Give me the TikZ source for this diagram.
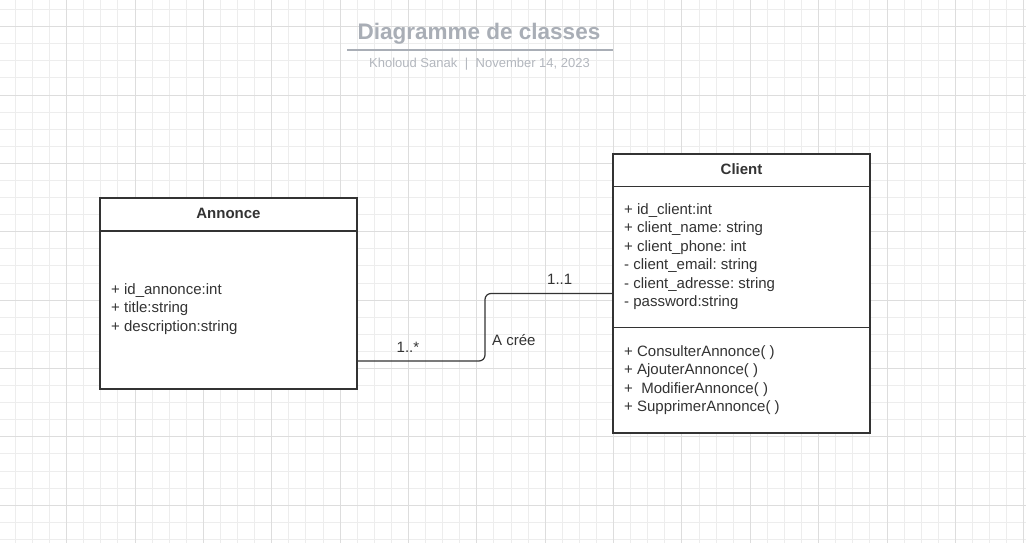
\documentclass[tikz,border=0pt]{standalone}
\usepackage{fontspec}
\setmainfont{Liberation Sans}
\frenchspacing
\definecolor{gridminor}{HTML}{EDEDED}
\definecolor{gridmajor}{HTML}{DDDDDD}
\definecolor{ink}{HTML}{333333}
\definecolor{titlegray}{HTML}{A9AEB6}
\definecolor{subgray}{HTML}{B3B7BE}
\tikzset{
  minorline/.style={gridminor, line width=1pt},
  majorline/.style={gridmajor, line width=1pt},
  classbox/.style={draw=ink, line width=1.5pt, fill=white, rectangle, inner sep=0pt, outer sep=0pt},
  divider/.style={draw=ink, line width=1.3pt},
  conn/.style={draw=ink, line width=1.2pt, rounded corners=6pt},
  txt/.style={text=ink, inner sep=0pt, font=\fontsize{15}{18.5}\selectfont},
  hdr/.style={text=ink, inner sep=0pt, font=\fontsize{15}{18.5}\selectfont\bfseries},
}
\begin{document}
\begin{tikzpicture}[x=1pt,y=-1pt]
\fill[white] (0,0) rectangle (1026,543);
\useasboundingbox (0,0) rectangle (1026,543);
% grid
\foreach \k in {-3,...,56} {
  \pgfmathsetmacro\xx{66.7+17.09*\k}
  \draw[minorline] (\xx,0) -- (\xx,543);
}
\foreach \k in {-1,...,30} {
  \pgfmathsetmacro\yy{26.7+17.09*\k}
  \draw[minorline] (0,\yy) -- (1026,\yy);
}
\foreach \k in {0,...,14} {
  \pgfmathsetmacro\xx{66.7+68.36*\k}
  \draw[majorline] (\xx,0) -- (\xx,543);
}
\foreach \k in {0,...,7} {
  \pgfmathsetmacro\yy{26.7+68.36*\k}
  \draw[majorline] (0,\yy) -- (1026,\yy);
}
% title
\node[text=titlegray, inner sep=0pt, anchor=base, font=\fontsize{22.5}{26}\selectfont\bfseries] (title) at (479,40) {Diagramme de classes};
\coordinate (ulL) at (347,50);
\coordinate (ulR) at (613,50);
\draw[titlegray, line width=2pt] (ulL) -- (ulR);
\node[text=subgray, inner sep=0pt, anchor=base, font=\fontsize{13}{15}\selectfont] (subtitle) at (479.5,68) {Kholoud Sanak\hspace{7.5pt}|\hspace{7.5pt}November 14, 2023};
% boxes
\node[classbox, minimum width=257pt, minimum height=191pt, anchor=north west] (annonce) at (100,198) {};
\node[classbox, minimum width=257pt, minimum height=279pt, anchor=north west] (client) at (613,154) {};
\draw[divider] ([yshift=-33pt]annonce.north west) -- ([yshift=-33pt]annonce.north east);
\draw[divider] ([yshift=-32.3pt]client.north west) -- ([yshift=-32.3pt]client.north east);
\draw[divider] ([yshift=-173.7pt]client.north west) -- ([yshift=-173.7pt]client.north east);
% headers
\node[hdr, anchor=base] (annhdr) at (228.5,218) {Annonce};
\node[hdr, anchor=base] (clihdr) at (741.5,174) {Client};
% Annonce attributes
\foreach \t [count=\i] in {+ id\_annonce:int, + title:string, + description:string} {
  \pgfmathsetmacro\yy{294+18.5*(\i-1)}
  \node[txt, anchor=base west] (aa\i) at (111,\yy) {\t};
}
% Client attributes
\foreach \t [count=\i] in {+ id\_client:int, + client\_name: string, + client\_phone: int, - client\_email: string, - client\_adresse: string, - password:string} {
  \pgfmathsetmacro\yy{214+18.5*(\i-1)}
  \node[txt, anchor=base west] (ca\i) at (624,\yy) {\t};
}
% Client methods
\foreach \t [count=\i] in {+ ConsulterAnnonce( ), + AjouterAnnonce( ), +\ \ ModifierAnnonce( ), + SupprimerAnnonce( )} {
  \pgfmathsetmacro\yy{356+18.5*(\i-1)}
  \node[txt, anchor=base west] (cm\i) at (624,\yy) {\t};
}
% connector
\coordinate (ybot) at (0,361);
\coordinate (xbend) at (485,0);
\draw[conn] (client.west) -- (xbend |- client.west) -- (xbend |- ybot) -- (annonce.east |- ybot);
% labels
\node[txt, anchor=base west] (multA) at (396.5,352) {1..*};
\node[txt, anchor=base west] (multC) at (547,284) {1..1};
\node[txt, anchor=base west] (assoc) at (492,345.5) {A crée};
\end{tikzpicture}
\end{document}
